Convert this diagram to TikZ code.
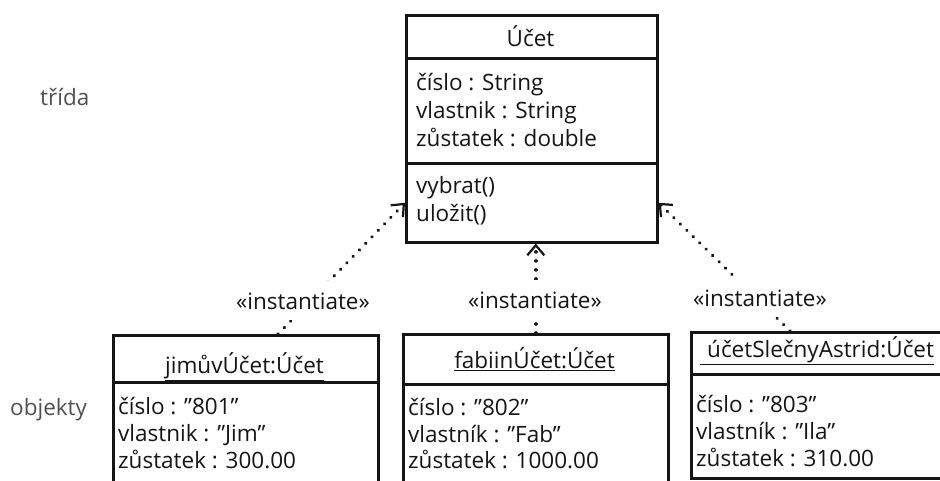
\documentclass[tikz,border=0pt]{standalone}
\usepackage{fontspec}
\setmainfont{Open Sans}
\usetikzlibrary{arrows.meta,calc}
\definecolor{ink}{HTML}{151515}
\definecolor{side}{HTML}{505050}
\newcommand{\ufont}{\fontsize{22.5}{27}\selectfont}
\tikzset{
  comp/.style={draw=ink, line width=2.6pt, inner sep=0pt, anchor=north west},
  txt/.style={anchor=base west, inner sep=0pt, text=ink, font=\ufont},
  ttl/.style={anchor=base, inner sep=0pt, text=ink, font=\ufont},
  sidelbl/.style={anchor=base west, inner sep=0pt, text=side, font=\ufont},
  stereo/.style={anchor=base, fill=white, inner xsep=2pt, inner ysep=11pt, text=ink, font=\ufont},
  inst/.style={draw=ink, line width=3.6pt, line cap=round, dash pattern=on 0.01pt off 9pt,
    -{Straight Barb[length=10pt,width=17pt,line width=2.2pt]}},
}
\begin{document}
\begin{tikzpicture}[x=1pt,y=-1pt]
\useasboundingbox (0,0) rectangle (940,481);
\clip (0,0) rectangle (940,481);
\fill[white] (0,0) rectangle (940,481);

% class
\node[comp, minimum width=251pt, minimum height=43pt] (chead) at (405,14) {};
\node[comp, minimum width=251pt, minimum height=105pt] (cattr) at (405,57) {};
\node[comp, minimum width=251pt, minimum height=79pt] (cops) at (405,162) {};
\node[ttl] (cname) at (530.5,47) {Účet};
\node[txt] (ca1) at (416,91) {číslo : String};
\node[txt] (ca2) at (416,119) {vlastnik : String};
\node[txt] (ca3) at (416,147) {zůstatek : double};
\node[txt] (co1) at (416,194) {vybrat()};
\node[txt] (co2) at (416,222) {uložit()};

% objects
\node[comp, minimum width=265pt, minimum height=47pt] (o1h) at (112,334) {};
\node[comp, minimum width=265pt, minimum height=130pt] (o1b) at (112,381) {};
\node[ttl] (o1t) at (244.5,373) {\underline{jimůvÚčet:Účet}};
\node[txt] (o1a) at (118,414) {číslo : "801"};
\node[txt] (o1c) at (118,441) {vlastnik : "Jim"};
\node[txt] (o1d) at (118,468) {zůstatek : 300.00};

\node[comp, minimum width=265pt, minimum height=50pt] (o2h) at (402,333) {};
\node[comp, minimum width=265pt, minimum height=130pt] (o2b) at (402,383) {};
\node[ttl] (o2t) at (534.5,368) {\underline{fabiinÚčet:Účet}};
\node[txt] (o2a) at (408,415) {číslo : "802"};
\node[txt] (o2c) at (408,442) {vlastník : "Fab"};
\node[txt] (o2d) at (408,468) {zůstatek : 1000.00};

\node[comp, minimum width=260pt, minimum height=42pt] (o3h) at (690,331) {};
\node[comp, minimum width=260pt, minimum height=104pt] (o3b) at (690,373) {};
\node[anchor=base west, inner sep=0pt, text=ink, font=\ufont] (o3t) at (700,357) {\underline{\hspace{7pt}účetSlečnyAstrid:Účet}};
\node[txt] (o3a) at (696,412) {číslo : "803"};
\node[txt] (o3c) at (696,439) {vlastník : "Ila"};
\node[txt] (o3d) at (696,466) {zůstatek : 310.00};

% side labels
\node[sidelbl] (trida) at (40,106) {třída};
\node[sidelbl] (objekty) at (10,415) {objekty};

% connectors
\draw[inst] ($(o1h.north west)+(166,0)$) -- (cops.west);
\draw[inst] (o2h.north) -- (cops.south -| o2h.north);
\draw[inst] ($(o3h.north west)+(100,0)$) -- (cops.east);

% stereotypes
\node[stereo] (s1) at (303,309) {«instantiate»};
\node[stereo] (s2) at (535,308) {«instantiate»};
\node[stereo] (s3) at (760,306) {«instantiate»};
\end{tikzpicture}
\end{document}
